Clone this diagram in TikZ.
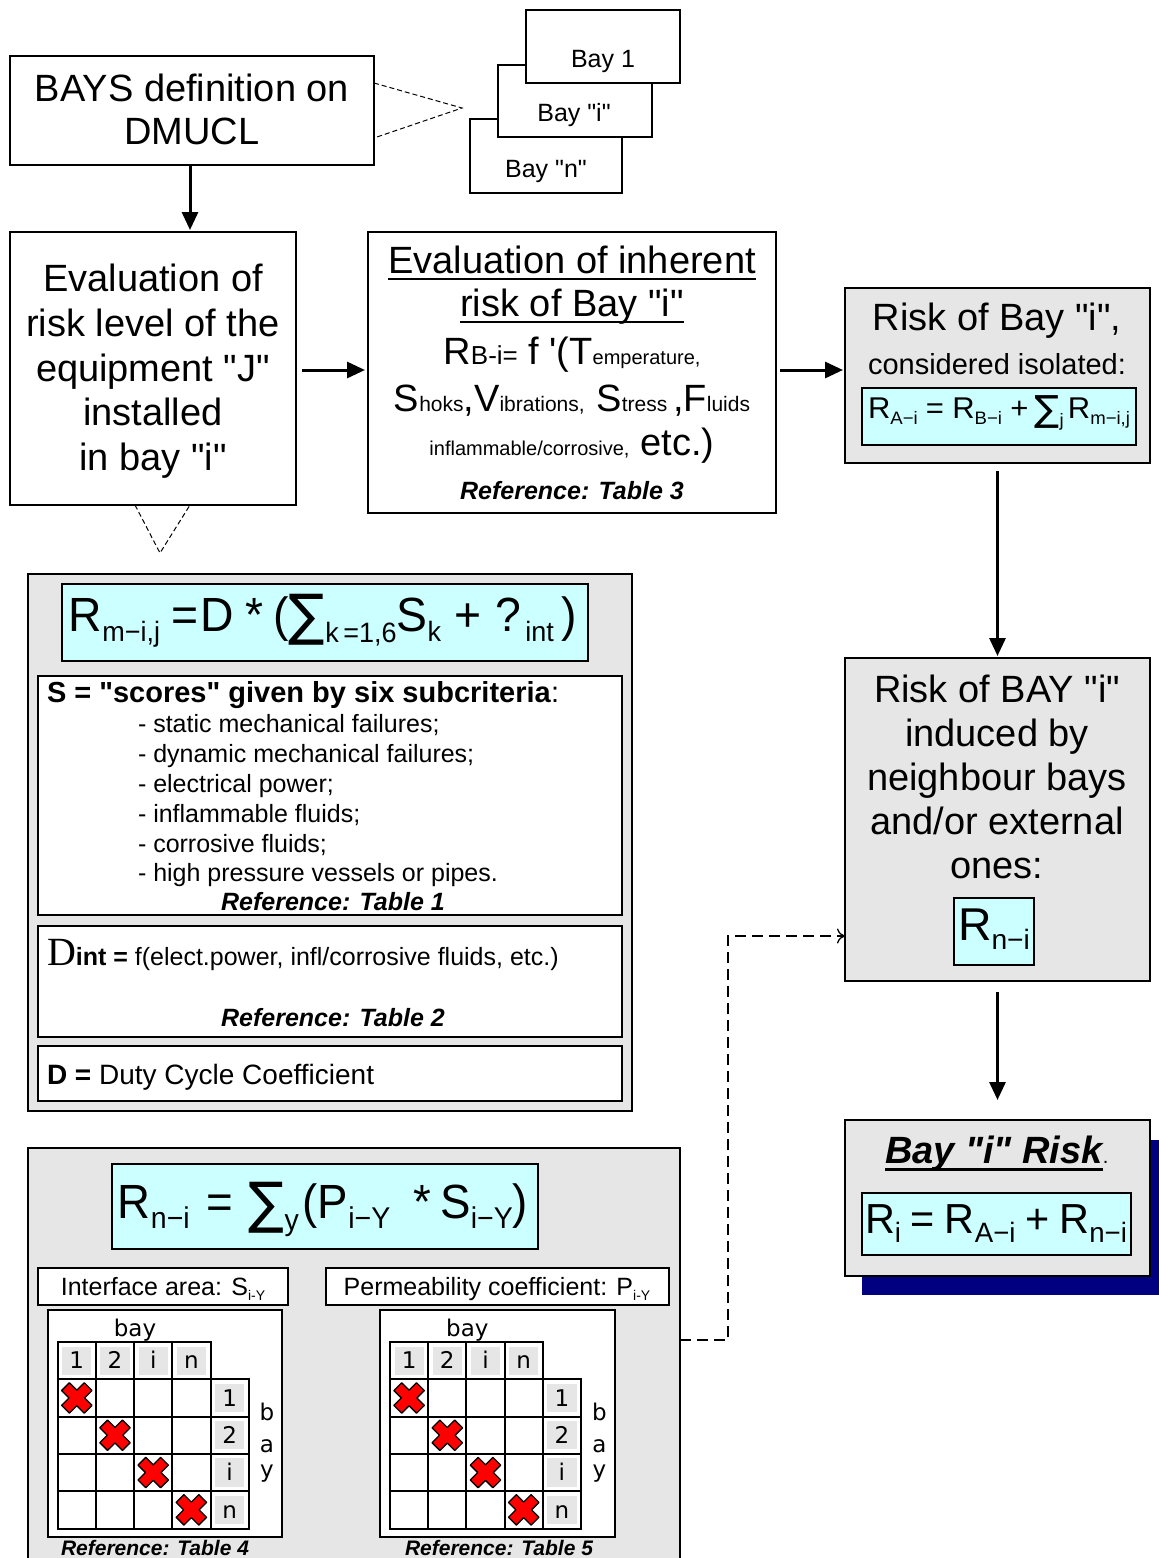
\documentclass[tikz,border=0pt]{standalone}
\usepackage{fontspec}
\usepackage{graphicx}
\setmainfont{Liberation Sans}[Ligatures=TeXOff]
\newfontfamily\djf{DejaVu Sans}[Ligatures=TeXOff]
\newfontfamily\serf{Liberation Serif}[Ligatures=TeXOff]
\usetikzlibrary{arrows.meta,calc}
\definecolor{panelgray}{HTML}{E6E6E6}
\definecolor{formcyan}{HTML}{CCFFFF}
\definecolor{shadownavy}{HTML}{000080}
\newcommand\fs[1]{\fontsize{#1}{#1}\selectfont}
\newcommand\sbx[3]{\raisebox{-#1pt}{\fs{#2}#3}}
\tikzset{
 box/.style={draw=black, line width=1.5pt, fill=white, anchor=north west, inner sep=0pt, outer sep=0pt},
 gbox/.style={box, fill=panelgray},
 cbox/.style={box, fill=formcyan},
 txt/.style={inner sep=0pt, outer sep=0pt, anchor=base},
 ltxt/.style={inner sep=0pt, outer sep=0pt, anchor=base west},
 gtxt/.style={inner sep=0pt, outer sep=0pt, anchor=base, font=\djf\fs{23}},
 gline/.style={line width=2pt, draw=black},
 xmk/.style={fill=red, draw=black, line width=1.3pt, line join=round},
 mainarrow/.style={line width=3pt, -{Triangle[length=18pt,width=16pt]}},
 dashlink/.style={line width=1pt, dash pattern=on 5pt off 3pt},
 dashlinkb/.style={line width=1.3pt, dash pattern=on 11pt off 6pt, -{To[length=8pt,width=15pt]}},
 uline/.style={line width=2pt},
}
\newcommand\baygrid[3]{%
\begin{scope}[shift={(#2,#3)}]
\foreach \c/\t in {0/1,1/2,2/i,3/n}{%
  \fill[panelgray] ({\c*38.2+4.5},4.5) rectangle ({\c*38.2+33.7},32.8);
  \node[gtxt] (#1h\c) at ({\c*38.2+19.1},26.8) {\t};
  \fill[panelgray] (157.3,{(\c+1)*37.3+4.5}) rectangle (186.5,{(\c+1)*37.3+32.8});
  \node[gtxt] (#1v\c) at (171.9,{(\c+1)*37.3+26.8}) {\t};
  \filldraw[xmk, shift={({\c*38.2+19.1},{(\c+1)*37.3+18.65})}, rotate=45]
    (5.5,5.5) -- (5.5,16) -- (-5.5,16) -- (-5.5,5.5) -- (-16,5.5) -- (-16,-5.5) -- (-5.5,-5.5) -- (-5.5,-16) -- (5.5,-16) -- (5.5,-5.5) -- (16,-5.5) -- (16,5.5) -- cycle;
}
\draw[gline] (0,0) rectangle (152.8,37.3);
\foreach \c in {1,2,3} \draw[gline] ({\c*38.2},0) -- ({\c*38.2},37.3);
\draw[gline] (0,37.3) rectangle (191,186.5);
\foreach \c in {1,2,3,4} \draw[gline] ({\c*38.2},37.3) -- ({\c*38.2},186.5);
\foreach \r in {2,3,4} \draw[gline] (0,{\r*37.3}) -- (191,{\r*37.3});
\node[gtxt] (#1bay) at (77.3,-6) {bay};
\node[gtxt] (#1b) at (209.3,78) {b};
\node[gtxt] (#1a) at (209.3,110) {a};
\node[gtxt] (#1y) at (209.3,135) {y};
\end{scope}}
\begin{document}
\begin{tikzpicture}[x=1pt,y=-1pt]
\useasboundingbox (0,0) rectangle (1159,1558);
\fill[white] (0,0) rectangle (1159,1558);
\clip (0,0) rectangle (1159,1558);

% ---------- top ----------
\node[box, minimum width=364pt, minimum height=109pt] (b1) at (10,56) {};
\node[txt] (b1t1) at (192,101) {\fs{38}BAYS definition on};
\node[txt] (b1t2) at (192,144) {\fs{38}DMUCL};

\node[box, minimum width=152pt, minimum height=74pt] (bayn) at (470,119) {};
\node[txt] (baynt) at (546,177) {\fs{25}Bay "n"};
\node[box, minimum width=154pt, minimum height=72pt] (bayi) at (498,65) {};
\node[txt] (bayit) at (574,121) {\fs{25}Bay "i"};
\node[box, minimum width=154pt, minimum height=73pt] (bay1) at (526,10) {};
\node[txt] (bay1t) at (603,67) {\fs{25}Bay 1};

\coordinate (apex) at (462,108);
\draw[dashlink] ($(b1.north east)+(0,27)$) -- (apex) -- ($(b1.south east)+(0,-27)$);

% ---------- equipment box ----------
\node[box, minimum width=286pt, minimum height=273pt] (b2) at (10,232) {};
\node[txt] (b2t1) at (153,291) {\fs{38}Evaluation of};
\node[txt] (b2t2) at (153,336) {\fs{38}risk level of the};
\node[txt] (b2t3) at (153,381) {\fs{38}equipment "J"};
\node[txt] (b2t4) at (153,425) {\fs{38}installed};
\node[txt] (b2t5) at (153,470) {\fs{38}in bay "i"};
\draw[mainarrow, shorten <=1pt, shorten >=2pt] (b1.south -| 190,0) -- (b2.north -| 190,0);

\coordinate (vap) at (160,553);
\draw[dashlink] ($(b2.south)+(-18,0)$) -- (vap) -- ($(b2.south)+(37,0)$);

% ---------- inherent risk box ----------
\node[box, minimum width=408pt, minimum height=281pt] (b3) at (368,232) {};
\node[txt] (t3a) at (572,273) {\fs{38}Evaluation of inherent};
\node[txt] (t3b) at (572,316) {\fs{38}risk of Bay "i"};
\draw[uline] ($(t3a.base west)+(0,6)$) -- ($(t3a.base east)+(0,6)$);
\draw[uline] ($(t3b.base west)+(0,6)$) -- ($(t3b.base east)+(0,6)$);
\node[txt] (t3c) at (572,364) {\fs{38}R{\fs{26}B-i=} f '(T{\fs{20}emperature,}};
\node[txt] (t3d) at (572,411) {\fs{38}S{\fs{21}hoks},V{\fs{21}ibrations,\ \ }S{\fs{21}tress }\fs{38},F{\fs{21}luids}};
\node[txt] (t3e) at (572,455) {{\fs{20}inflammable/corrosive,\ \ }\fs{38}etc.)};
\node[txt] (t3f) at (572,499) {\fs{25}\bfseries\itshape Reference: Table 3};

\draw[mainarrow, shorten <=6pt, shorten >=3pt] (b2.east |- 0,370) -- (b3.west |- 0,370);

% ---------- right column ----------
\node[gbox, minimum width=305pt, minimum height=175pt] (b4) at (845,288) {};
\node[txt] (b4t1) at (997,330) {\fs{38}Risk of Bay "i",};
\node[txt] (b4t2) at (997,374) {\fs{29}considered isolated:};
\node[cbox, minimum width=274pt, minimum height=57pt] (b4f) at (862,388) {};
\node[txt] (b4ft) at (999,418) {\resizebox{262pt}{\height}{\fs{30}R\sbx{6}{18}{A−i}\hspace{8pt}=\hspace{8pt}R\sbx{6}{18}{B−i}\hspace{8pt}+\hspace{6pt}\raisebox{-3pt}{\djf\fs{36}∑}\sbx{8}{18}{j}\hspace{4pt}R\sbx{6}{18}{m−i,j}}};
\draw[mainarrow, shorten <=4pt, shorten >=2pt] (b3.east |- 0,370) -- (b4.west |- 0,370);

\node[gbox, minimum width=305pt, minimum height=323pt] (b5) at (845,658) {};
\node[txt] (b5t1) at (997,702) {\fs{38}Risk of BAY "i"};
\node[txt] (b5t2) at (997,746) {\fs{38}induced by};
\node[txt] (b5t3) at (997,790) {\fs{38}neighbour bays};
\node[txt] (b5t4) at (997,834) {\fs{38}and/or external};
\node[txt] (b5t5) at (997,878) {\fs{38}ones:};
\node[cbox, minimum width=80pt, minimum height=67pt] (b5f) at (954,898) {};
\node[txt] (b5ft) at (994,940) {\resizebox{72pt}{\height}{\fs{46}R\sbx{9}{28}{n−i}}};
\draw[mainarrow, shorten <=8pt, shorten >=2pt] (b4.south) -- (b5.north);

\node[anchor=north west, fill=shadownavy, minimum width=297pt, minimum height=155pt, inner sep=0pt, outer sep=0pt] (shadow) at (862,1140) {};
\node[gbox, minimum width=305pt, minimum height=156pt] (b6) at (845,1120) {};
\node[txt] (b6t) at (994,1163) {\fs{38}\bfseries\itshape Bay "i" Risk};
\node[ltxt] (b6dot) at (b6t.base east) {\fs{20}.};
\draw[line width=3pt] ($(b6t.base west)+(0,6)$) -- ($(b6t.base east)+(0,6)$);
\node[cbox, minimum width=269pt, minimum height=62pt] (b6f) at (862,1193) {};
\node[txt] (b6ft) at (996,1233) {\resizebox{262pt}{\height}{\fs{42}R\sbx{9}{28}{i}\hspace{10pt}=\hspace{10pt}R\sbx{9}{28}{A−i}\hspace{10pt}+\hspace{10pt}R\sbx{9}{28}{n−i}}};
\draw[mainarrow, shorten <=11pt, shorten >=20pt] (b5.south) -- (b6.north);

% ---------- panel 1 ----------
\node[gbox, minimum width=604pt, minimum height=537pt] (p1) at (28,574) {};
\node[cbox, minimum width=526pt, minimum height=77pt] (p1f) at (62,584) {};
\node[txt] (p1ft) at (323,631) {\resizebox{508pt}{\height}{\fs{48}R\sbx{10}{28}{m−i,j}\hspace{12pt}=\hspace{2pt}D\hspace{12pt}*\hspace{10pt}(\raisebox{-3pt}{\djf\fs{56}∑}\sbx{11}{28}{k\,=1,6}S\sbx{10}{28}{k}\hspace{14pt}+\hspace{14pt}?\sbx{10}{28}{\,int}\hspace{8pt})}};
\node[box, minimum width=584pt, minimum height=239pt] (sbox) at (38,676) {};
\node[ltxt] (s0) at (47,702) {\fs{29}\textbf{S = "scores" given by six subcriteria}:};
\node[ltxt] (s1) at (138,732) {\fs{25}- static mechanical failures;};
\node[ltxt] (s2) at (138,762) {\fs{25}- dynamic mechanical failures;};
\node[ltxt] (s3) at (138,792) {\fs{25}- electrical power;};
\node[ltxt] (s4) at (138,822) {\fs{25}- inflammable fluids;};
\node[ltxt] (s5) at (138,852) {\fs{25}- corrosive fluids;};
\node[ltxt] (s6) at (138,881) {\fs{25}- high pressure vessels or pipes.};
\node[txt] (s7) at (333,910) {\fs{25}\bfseries\itshape Reference: Table 1};
\node[box, minimum width=584pt, minimum height=111pt] (dibox) at (38,926) {};
\node[ltxt] (di) at (47,965) {\fs{25}{\serf\fs{40}D}\textbf{int =} f(elect.power, infl/corrosive fluids, etc.)};
\node[txt] (di2) at (333,1026) {\fs{25}\bfseries\itshape Reference: Table 2};
\node[box, minimum width=584pt, minimum height=55pt] (dbox) at (38,1046) {};
\node[ltxt] (dd) at (47,1084) {\fs{28}\textbf{D =} Duty Cycle Coefficient};

% ---------- panel 2 ----------
\node[gbox, minimum width=652pt, minimum height=440pt] (p2) at (28,1148) {};
\node[cbox, minimum width=426pt, minimum height=85pt] (p2f) at (112,1164) {};
\node[txt] (p2ft) at (323,1218) {\resizebox{410pt}{\height}{\fs{48}R\sbx{10}{30}{n−i}\hspace{18pt}=\hspace{16pt}\raisebox{-4pt}{\djf\fs{56}∑}\sbx{12}{30}{y}\hspace{4pt}(P\sbx{10}{30}{i−Y}\hspace{24pt}*\hspace{10pt}S\sbx{10}{30}{i−Y})}};
\node[box, minimum width=250pt, minimum height=37pt] (ia) at (38,1268) {};
\node[txt] (iat) at (163,1295) {\fs{25}Interface area: S\sbx{5}{14}{i-Y}};
\node[box, minimum width=343pt, minimum height=37pt] (pc) at (326,1268) {};
\node[txt] (pct) at (497,1295) {\fs{25}Permeability coefficient: P\sbx{5}{14}{i-Y}};
\node[box, minimum width=234pt, minimum height=227pt] (g1) at (48,1310) {};
\node[box, minimum width=235pt, minimum height=227pt] (g2) at (380,1310) {};
\baygrid{ga}{57.7}{1342}
\baygrid{gb}{390}{1342}
\node[txt] (ref4) at (155,1555) {\fs{21}\bfseries\itshape Reference: Table 4};
\node[txt] (ref5) at (499,1555) {\fs{21}\bfseries\itshape Reference: Table 5};

\coordinate (bend) at (728,1340);
\draw[dashlinkb] (p2.east |- bend) -- (bend) |- (b5.west |- 0,936);
\end{tikzpicture}
\end{document}
